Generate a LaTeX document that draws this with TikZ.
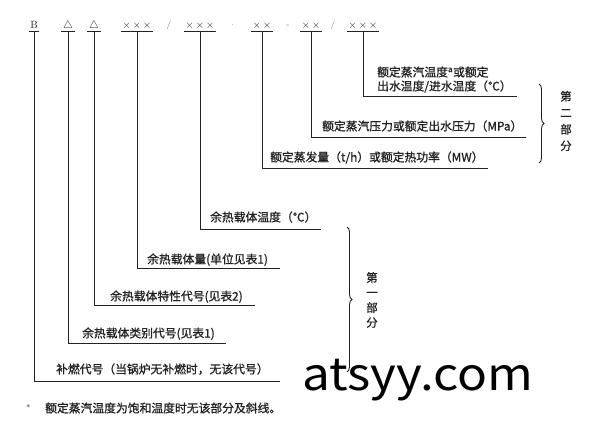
\documentclass[tikz,border=0pt]{standalone}
\usepackage{fontspec}
\newfontfamily\cjk[FakeBold=1]{Noto Sans CJK SC}
\newfontfamily\wmfont{Noto Sans CJK SC}
\usetikzlibrary{decorations.pathreplacing}
\definecolor{ink}{HTML}{222222}
\tikzstyle{code}=[anchor=base, inner ysep=0, inner xsep=1.5pt, text depth=3pt, font=\fontsize{10.5}{10}\selectfont, text=ink]
\tikzstyle{sepr}=[anchor=base, inner sep=0, font=\fontsize{9}{9}\selectfont, text=ink!70]
\tikzstyle{lbl}=[anchor=base west, inner sep=0, font=\cjk\fontsize{11.8}{12}\selectfont, text=ink]
\tikzstyle{part}=[align=center, inner sep=0, text=ink]
\tikzstyle{lead}=[draw=ink, line width=0.7pt]
\tikzstyle{bar}=[draw=ink, line width=0.9pt, decorate, decoration={brace, amplitude=5pt}]

\begin{document}
\begin{tikzpicture}[x=1pt, y=-1pt]
\useasboundingbox (0,0) rectangle (600,421);

% code string
\node [code] (B)  at (34, 28)  {B};
\node [code] (T1) at (68, 28)  {$\triangle$};
\node [code] (T2) at (94, 28)  {$\triangle$};
\node [code] (X1) at (137, 28) {$\times$\,$\times$\,$\times$};
\node [sepr] (s1) at (169, 27) {/};
\node [code] (X2) at (200, 28) {$\times$\,$\times$\,$\times$};
\node [sepr] (s2) at (233, 27) {$\cdot$};
\node [code] (X3) at (262, 28) {$\times$\,$\times$};
\node [sepr] (s3) at (288, 27) {-};
\node [code] (X4) at (311, 28) {$\times$\,$\times$};
\node [sepr] (s4) at (333, 27) {/};
\node [code] (X5) at (363, 28) {$\times$\,$\times$\,$\times$};

\foreach \c in {B, T1, T2, X1, X2, X3, X4, X5}
  \draw [lead] (\c.south west) -- (\c.south east);

% ends of the rules
\coordinate (r1) at (280, 381);
\coordinate (r2) at (226, 343);
\coordinate (r3) at (255, 305);
\coordinate (r4) at (280, 268);
\coordinate (r5) at (321, 229);
\coordinate (r6) at (488, 168);
\coordinate (r7) at (526, 137);
\coordinate (r8) at (517, 96);

\draw [lead] (B.south)  |- (r1);
\draw [lead] (T1.south) |- (r2);
\draw [lead] (T2.south) |- (r3);
\draw [lead] (X1.south) |- (r4);
\draw [lead] (X2.south) |- (r5);
\draw [lead] (X3.south) |- (r6);
\draw [lead] (X4.south) |- (r7);
\draw [lead] (X5.south) |- (r8);

% labels
\node [lbl] (L8a) at (377, 76.5)  {额定蒸汽温度\textsuperscript{a}或额定};
\node [lbl] (L8b) at (377, 90.5)  {出水温度/进水温度（℃）};
\node [lbl] (L7)  at (322, 130.5) {额定蒸汽压力或额定出水压力（MPa）};
\node [lbl] (L6)  at (270, 161.5) {额定蒸发量（t/h）或额定热功率（MW）};
\node [lbl] (L5)  at (210, 221.5) {余热载体温度（℃）};
\node [lbl] (L4)  at (147, 263.5) {余热载体量(单位见表1)};
\node [lbl] (L3)  at (110, 300.5) {余热载体特性代号(见表2)};
\node [lbl] (L2)  at (82, 337.5)  {余热载体类别代号(见表1)};
\node [lbl] (L1)  at (56, 373.5)  {补燃代号（当锅炉无补燃时，无该代号）};

% parts
\coordinate (p2a) at (539, 84);
\coordinate (p2b) at (539, 163);
\draw [bar] (p2a) -- (p2b);
\node [part, font=\cjk\fontsize{11.5}{16.5}\selectfont] (P2) at (566, 121) {第\\二\\部\\分};

\coordinate (p1a) at (347, 227);
\coordinate (p1b) at (347, 372);
\draw [bar] (p1a) -- (p1b);
\node [part, font=\cjk\fontsize{11.5}{15}\selectfont] (P1) at (372, 300) {第\\一\\部\\分};

% footnote
\node [lbl, font=\fontsize{8}{8}\selectfont] (st) at (26, 410) {*};
\node [lbl] (fn) at (45, 412.5) {额定蒸汽温度为饱和温度时无该部分及斜线。};

\node [anchor=base west, inner sep=0, xscale=1.1, font=\wmfont\fontsize{45}{45}\selectfont] (wm) at (302, 390) {atsyy.com};

\end{tikzpicture}
\end{document}
